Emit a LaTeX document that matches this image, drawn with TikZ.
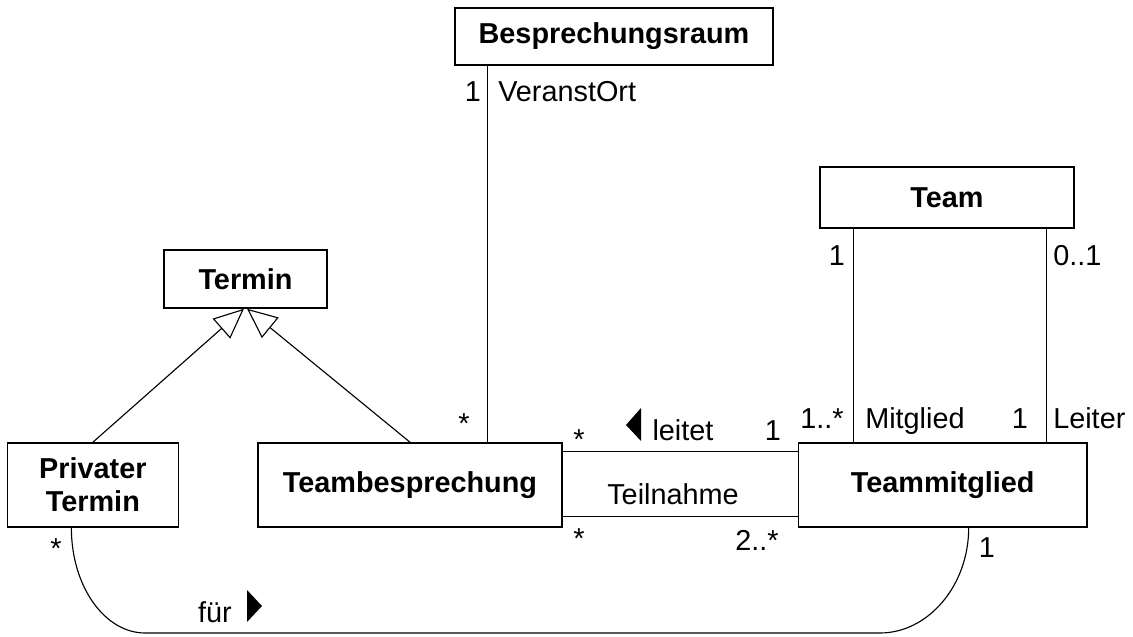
\documentclass[tikz,border=0pt]{standalone}
\usepackage{fontspec}
\setmainfont{Liberation Sans}
\usetikzlibrary{arrows.meta,positioning,calc}

\begin{document}
\begin{tikzpicture}[
    x=0.025cm, y=-0.025cm,
    umlclass/.style={rectangle, draw=black, line width=1.1pt, inner sep=2pt,
        minimum height=2.1cm, align=center,
        font=\fontsize{20.5pt}{23.5pt}\selectfont\bfseries},
    assoc/.style={line width=0.8pt},
    gen/.style={-{Triangle[open, length=0.75cm, width=0.66cm, line width=0.8pt]},
        line width=0.8pt},
    lbl/.style={font=\fontsize{20.5pt}{24pt}\selectfont, inner sep=0pt, anchor=base}
]
    \useasboundingbox (0,0) rectangle (1133,637);

    % Classes
    \node[umlclass, minimum width=7.6cm] (tb) at (410,485) {Teambesprechung};
    \node[umlclass, minimum width=4.275cm, left=1.95cm of tb] (pt) {Privater\\Termin};
    \node[umlclass, minimum width=7.2cm, right=5.875cm of tb] (tm) {Teammitglied};
    \node[umlclass, minimum width=4.075cm, minimum height=1.45cm] (termin) at (245.5,279) {Termin};
    \node[umlclass, minimum width=7.95cm, minimum height=1.425cm] (raum) at (614,36.5) {Besprechungsraum};
    \node[umlclass, minimum width=6.35cm, minimum height=1.525cm] (team) at (947,197.5) {Team};

    % Generalisation
    \draw[gen] (pt.north) -- ([xshift=-0.04cm]termin.south);
    \draw[gen] (tb.north) -- ([xshift=0.04cm]termin.south);

    % Associations
    \coordinate (rm) at ([xshift=0.825cm]raum.south west);
    \draw[assoc] (rm) -- (rm |- tb.north);

    \coordinate (tl) at ([xshift=0.85cm]team.south west);
    \coordinate (tr) at ([xshift=-0.7cm]team.south east);
    \draw[assoc] (tl) -- (tl |- tm.north);
    \draw[assoc] (tr) -- (tr |- tm.north);

    \coordinate (lt) at ([yshift=-0.225cm]tb.north east);
    \coordinate (lb) at ([yshift=0.275cm]tb.south east);
    \draw[assoc] (lt) -- (lt -| tm.west);
    \draw[assoc] (lb) -- (lb -| tm.west);

    \coordinate (fa) at ([xshift=-0.5375cm]pt.south);
    \coordinate (fb) at ([xshift=0.65cm]tm.south);
    \draw[assoc] (fa) .. controls +(0,59) and +(-40,0) .. (145,633)
        -- (880,633) .. controls +(48,0) and +(0,58) .. (fb);

    % Multiplicities and roles
    \node[lbl] (m1) at (473,102) {1};
    \node[lbl, anchor=base west] (role1) at (498,102) {VeranstOrt};
    \node[lbl] (m2) at (464,433) {*};
    \node[lbl] (m3) at (579,449) {*};
    \node[lbl] (leitet) at (683,440) {leitet};
    \node[lbl] (m4) at (773,440) {1};
    \node[lbl] (teiln) at (673,504) {Teilnahme};
    \node[lbl] (m5) at (579,548) {*};
    \node[lbl] (m6) at (757,550) {2..*};
    \node[lbl] (m7) at (837,265) {1};
    \node[lbl, anchor=base west] (m8) at (1053,265) {0..1};
    \node[lbl] (m9) at (822,428) {1..*};
    \node[lbl, anchor=base west] (role2) at (865,428) {Mitglied};
    \node[lbl] (m10) at (1020,428) {1};
    \node[lbl, anchor=base west] (role3) at (1053,428) {Leiter};
    \node[lbl] (m11) at (56,558) {*};
    \node[lbl] (m12) at (987,557) {1};
    \node[lbl] (fuer) at (215,622) {für};

    % Reading direction
    \fill (626,425) -- (641,408) -- (641,441) -- cycle;
    \fill (247,590) -- (262,606) -- (247,622) -- cycle;
\end{tikzpicture}
\end{document}
